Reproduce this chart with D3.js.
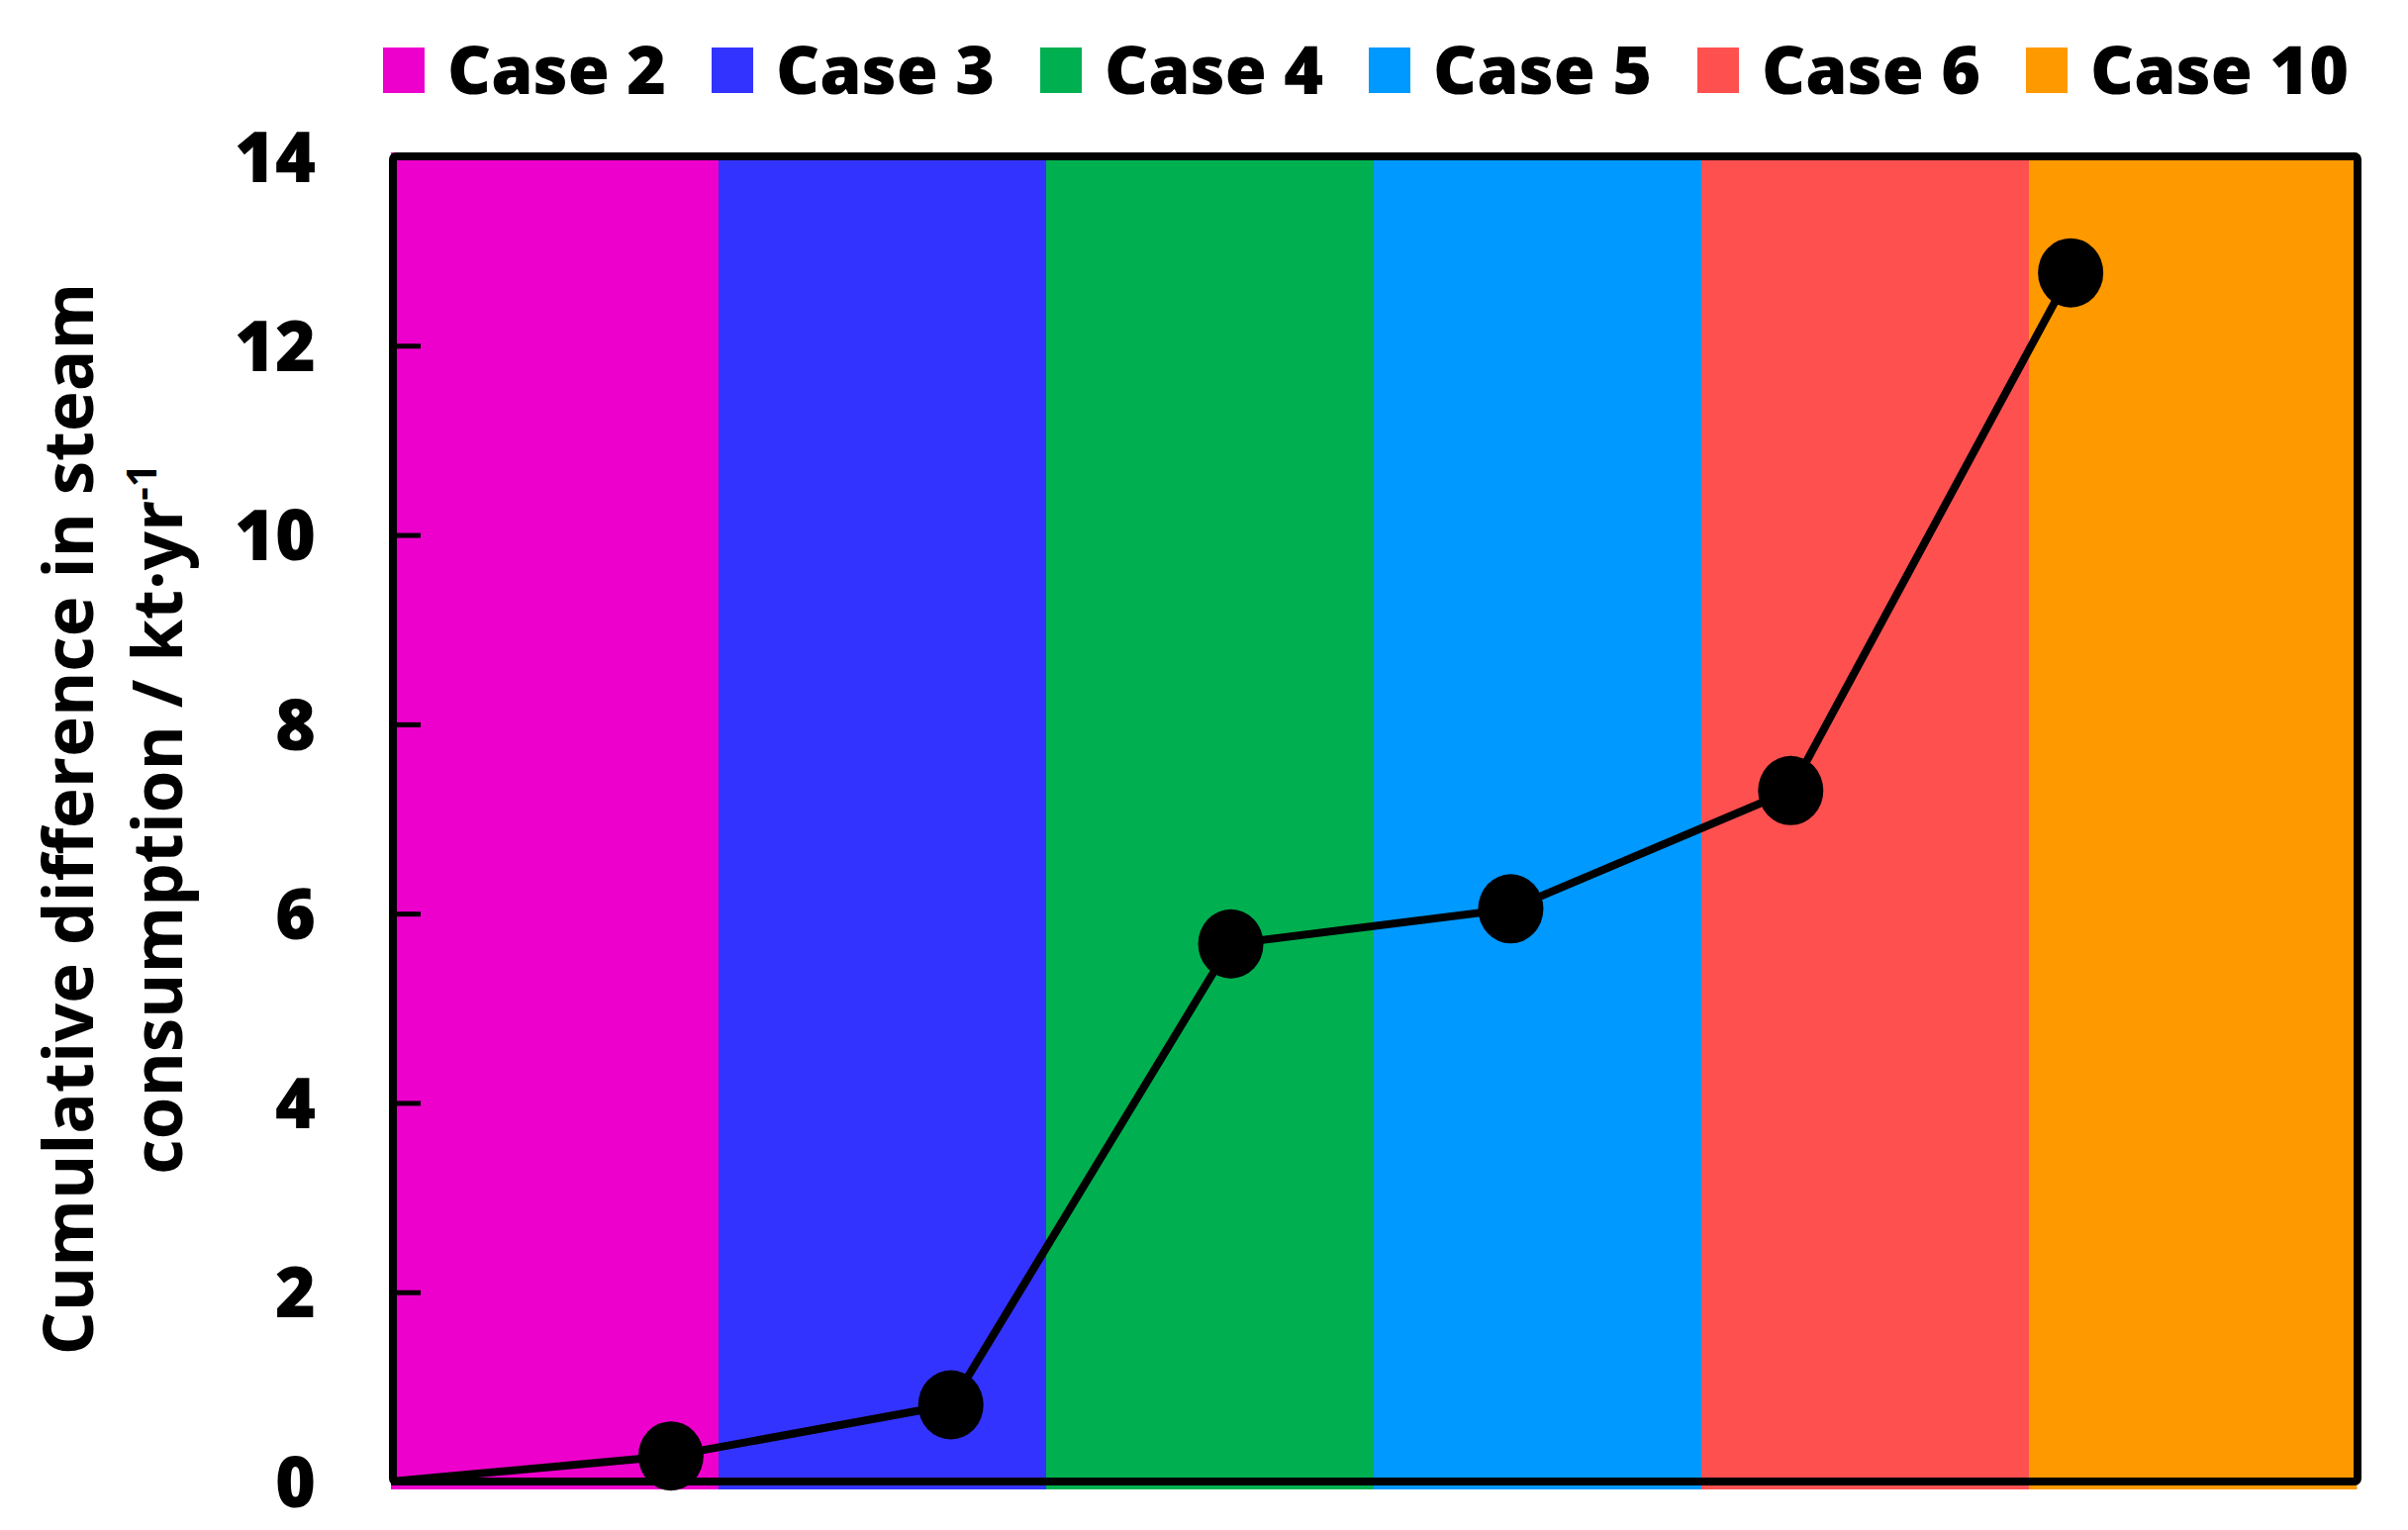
<!DOCTYPE html>
<html><head><meta charset="utf-8">
<script src="https://cdn.jsdelivr.net/npm/d3@7"></script>
<style>html,body{margin:0;padding:0;background:#fff;}</style>
</head><body>
<svg id="chart" width="2433" height="1546"></svg>
<script>
// ---- data ----
const cases = ["Case 2", "Case 3", "Case 4", "Case 5", "Case 6", "Case 10"];
const caseColors = ["#EE00CC", "#3333FF", "#00B050", "#0099FF", "#FF5050", "#FF9900"];
const xSteps = [0, 1, 2, 3, 4, 5, 6];
const cumulative = [0, 0.27, 0.81, 5.68, 6.05, 7.30, 12.77];
const yTicks = [0, 2, 4, 6, 8, 10, 12, 14];

// ---- layout ----
const L = 397, R = 2382, T = 158, B = 1497;
const font = "'Open Sans', sans-serif";
const svg = d3.select("#chart");

const x = d3.scaleLinear().domain([0, 7]).range([395, 2375]);
const y = d3.scaleLinear().domain([0, 14]).range([B, T]);
const band = d3.scaleBand().domain(cases).range([395, 2381]).padding(0);

// background bands
svg.append("g").selectAll("rect").data(cases).join("rect")
  .attr("x", d => band(d)).attr("y", T - 4)
  .attr("width", band.bandwidth() + 0.5).attr("height", B - T + 12)
  .attr("fill", (d, i) => caseColors[i]);

// line
const pts = xSteps.map((s, i) => [s, cumulative[i]]);
svg.append("path").datum(pts)
  .attr("fill", "none").attr("stroke", "#000").attr("stroke-width", 8)
  .attr("stroke-linejoin", "round")
  .attr("d", d3.line().x(d => x(d[0])).y(d => y(d[1])));

// markers (skip origin)
svg.append("g").selectAll("ellipse").data(pts.slice(1)).join("ellipse")
  .attr("cx", d => x(d[0])).attr("cy", d => y(d[1]))
  .attr("rx", 33).attr("ry", 35).attr("fill", "#000");

// y axis (inside ticks)
const yAxis = d3.axisLeft(y).tickValues(yTicks).tickSize(-28).tickPadding(0).tickFormat(d3.format("d"));
const gy = svg.append("g").attr("transform", `translate(${L},0)`).call(yAxis);
gy.select(".domain").remove();
gy.selectAll(".tick line").attr("stroke", "#000").attr("stroke-width", 5);
gy.selectAll(".tick text")
  .attr("x", -78).attr("dy", "0.36em")
  .attr("font-family", font).attr("font-weight", 800).attr("font-size", 70)
  .attr("fill", "#000");

// frame
svg.append("rect").attr("x", L).attr("y", T).attr("width", R - L).attr("height", B - T)
  .attr("fill", "none").attr("stroke", "#000").attr("stroke-width", 8)
  .attr("rx", 3);

// y title
const cy = (T + B) / 2;
svg.append("text")
  .attr("transform", `translate(70,${cy}) rotate(-90)`)
  .attr("text-anchor", "middle").attr("dy", "0.35em")
  .attr("font-family", font).attr("font-weight", 700).attr("font-size", 69)
  .text("Cumulative difference in steam");
const t2 = svg.append("text")
  .attr("transform", `translate(160,${cy}) rotate(-90)`)
  .attr("text-anchor", "middle").attr("dy", "0.35em")
  .attr("font-family", font).attr("font-weight", 700).attr("font-size", 69);
t2.append("tspan").text("consumption / kt·yr");
t2.append("tspan").attr("font-size", 42).attr("dy", "-26").text("-1");

// legend
const lg = svg.append("g").selectAll("g").data(cases).join("g")
  .attr("transform", (d, i) => `translate(${387 + i * 332},48)`);
lg.append("rect").attr("width", 42).attr("height", 46).attr("fill", (d, i) => caseColors[i]);
lg.append("text").attr("x", 65).attr("y", 23).attr("dy", "0.36em")
  .attr("font-family", font).attr("font-weight", 800).attr("font-size", 68)
  .text(d => d);
</script>
</body></html>
